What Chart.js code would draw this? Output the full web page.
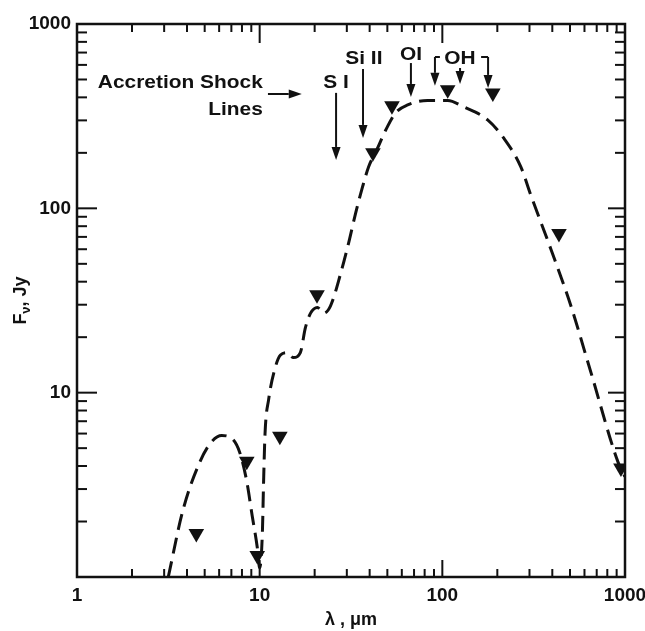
<!DOCTYPE html>
<html lang="en">
<head>
    <meta charset="UTF-8">
    <title>Spectral energy distribution</title>
    <script src="https://cdn.jsdelivr.net/npm/chart.js"></script>
    <style>
        body { margin: 0; background: #fff; }
        canvas { display: block; }
    </style>
</head>
<body>
    <canvas id="sedChart" width="645" height="631"></canvas>
    <script>
        // Model curve (dashed), wavelength in micron and flux in Jy
        const curveLambda = [3.16, 3.8, 4.7, 5.4, 6.2, 7.1, 7.8, 8.5, 9.1, 9.7, 10.0, 10.35, 10.5, 10.7, 11.2, 12.2, 13.0, 14.2, 15.3, 16.7, 17.8, 19.0, 20.7, 22.4, 24.4, 27.7, 30.7, 33.5, 36.6, 39.5, 44, 49, 55.5, 64.6, 83, 107, 131, 177, 217, 269, 305, 393, 506, 652, 916, 1000];
        const curveFlux = [1.0, 2.3, 4.2, 5.35, 5.85, 5.6, 4.7, 3.3, 2.15, 1.45, 1.12, 1.75, 3.2, 6.0, 9.2, 13.8, 16.0, 16.5, 15.5, 16.5, 22.5, 27, 29, 27, 29.5, 44, 65, 94, 131, 168, 210, 266, 330, 364, 385, 385, 355, 302, 240, 168, 118, 60, 29.5, 12.8, 4.2, 3.5];

        // Upper limits (down triangles)
        const limitLambda = [4.5, 8.5, 9.7, 12.9, 20.6, 41.7, 53, 107, 189, 435, 950];
        const limitFlux = [1.72, 4.25, 1.31, 5.8, 34, 200, 360, 440, 423, 73, 3.9];

        // Tick labels
        const xTickValues = [1, 10, 100, 1000];
        const yTickValues = [10, 100, 1000];

        // Line labels with their arrows, in data coordinates
        const lineLabels = [
            { text: 'Accretion Shock', x: 10.4, y: 450, align: 'right' },
            { text: 'Lines', x: 10.4, y: 321, align: 'right' },
            { text: 'S I', x: 26.2, y: 450, align: 'center' },
            { text: 'Si II', x: 37.2, y: 607, align: 'center' },
            { text: 'OI', x: 67.3, y: 638, align: 'center' },
            { text: 'OH', x: 125, y: 607, align: 'center' }
        ];
        const lineArrows = [
            { x1: 11.1, y1: 417, x2: 17.0, y2: 417 },
            { x1: 26.2, y1: 423, x2: 26.2, y2: 183 },
            { x1: 36.8, y1: 570, x2: 36.8, y2: 241 },
            { x1: 67.3, y1: 614, x2: 67.3, y2: 402 },
            { x1: 91.1, y1: 662, x2: 91.1, y2: 462 },
            { x1: 125, y1: 577, x2: 125, y2: 472 },
            { x1: 178, y1: 662, x2: 178, y2: 450 }
        ];
        // little hooks of the OH bracket
        const bracketHooks = [
            { x1: 91.1, x2: 97, y: 662 },
            { x1: 163, x2: 178, y: 662 }
        ];

        const INK = '#111';
        const FONT = '"Liberation Sans", Arial, Helvetica, sans-serif';

        function strokeLine(ctx, x1, y1, x2, y2) {
            ctx.beginPath();
            ctx.moveTo(x1, y1);
            ctx.lineTo(x2, y2);
            ctx.stroke();
        }

        // frame box and inward ticks on all four sides
        const frameTicks = {
            id: 'frameTicks',
            afterDraw(chart) {
                const { ctx, chartArea: a, scales: { x, y } } = chart;
                ctx.save();
                ctx.strokeStyle = INK;
                ctx.lineWidth = 2;
                for (let d = 1; d < 1000; d *= 10) {
                    for (let m = 1; m < 10; m++) {
                        const v = m * d;
                        const major = m === 1;
                        const px = x.getPixelForValue(v);
                        const py = y.getPixelForValue(v);
                        strokeLine(ctx, px, a.bottom, px, a.bottom - (major ? 17 : 8));
                        strokeLine(ctx, px, a.top, px, a.top + (major ? 19 : 8));
                        strokeLine(ctx, a.left, py, a.left + (major ? 20 : 10), py);
                        strokeLine(ctx, a.right, py, a.right - (major ? 17 : 10), py);
                    }
                }
                ctx.lineWidth = 2.5;
                ctx.strokeRect(a.left, a.top, a.width, a.height);

                // y title with subscript nu
                ctx.fillStyle = INK;
                ctx.translate(20, (a.top + a.bottom) / 2);
                ctx.rotate(-Math.PI / 2);
                ctx.textBaseline = 'alphabetic';
                const big = 'bold 18px ' + FONT;
                const small = 'bold 13px ' + FONT;
                ctx.font = big;
                const wF = ctx.measureText('F').width;
                const wRest = ctx.measureText(', Jy').width;
                ctx.font = small;
                const wNu = ctx.measureText('\u03bd').width;
                let cx = -(wF + wNu + wRest) / 2;
                ctx.font = big;
                ctx.fillText('F', cx, 6);
                cx += wF;
                ctx.font = small;
                ctx.fillText('\u03bd', cx, 10);
                cx += wNu;
                ctx.font = big;
                ctx.fillText(', Jy', cx, 6);
                ctx.restore();
            }
        };

        // labels and arrows for the accretion shock lines
        const shockLines = {
            id: 'shockLines',
            afterDatasetsDraw(chart) {
                const { ctx, scales: { x, y } } = chart;
                ctx.save();
                ctx.fillStyle = INK;
                ctx.strokeStyle = INK;
                ctx.font = 'bold 19px ' + FONT;
                ctx.textBaseline = 'alphabetic';
                lineLabels.forEach(l => {
                    // the scanned lettering is a bit wider than Arial
                    ctx.save();
                    ctx.translate(x.getPixelForValue(l.x), y.getPixelForValue(l.y));
                    ctx.scale(1.1, 1);
                    ctx.textAlign = l.align;
                    ctx.fillText(l.text, 0, 0);
                    ctx.restore();
                });
                ctx.lineWidth = 2;
                lineArrows.forEach(ar => {
                    const x1 = x.getPixelForValue(ar.x1), y1 = y.getPixelForValue(ar.y1);
                    const x2 = x.getPixelForValue(ar.x2), y2 = y.getPixelForValue(ar.y2);
                    const ang = Math.atan2(y2 - y1, x2 - x1);
                    const len = 13, half = 4.5;
                    const bx = x2 - Math.cos(ang) * len, by = y2 - Math.sin(ang) * len;
                    strokeLine(ctx, x1, y1, bx, by);
                    ctx.beginPath();
                    ctx.moveTo(x2, y2);
                    ctx.lineTo(bx - Math.sin(ang) * half, by + Math.cos(ang) * half);
                    ctx.lineTo(bx + Math.sin(ang) * half, by - Math.cos(ang) * half);
                    ctx.closePath();
                    ctx.fill();
                });
                bracketHooks.forEach(h => {
                    const py = y.getPixelForValue(h.y);
                    strokeLine(ctx, x.getPixelForValue(h.x1), py, x.getPixelForValue(h.x2), py);
                });
                ctx.restore();
            }
        };

        function drawChart() {
            const ctx = document.getElementById('sedChart').getContext('2d');
            Chart.defaults.font.family = FONT;
            Chart.defaults.color = INK;

            new Chart(ctx, {
                type: 'scatter',
                data: {
                    datasets: [
                        {
                            label: 'model',
                            data: curveLambda.map((l, i) => ({ x: l, y: curveFlux[i] })),
                            showLine: true,
                            borderColor: INK,
                            borderWidth: 3,
                            borderDash: [16, 8],
                            pointRadius: 0,
                            cubicInterpolationMode: 'monotone',
                            order: 2
                        },
                        {
                            label: 'upper limits',
                            data: limitLambda.map((l, i) => ({ x: l, y: limitFlux[i] })),
                            pointStyle: 'triangle',
                            rotation: 180,
                            pointRadius: 9,
                            backgroundColor: INK,
                            borderWidth: 0,
                            order: 1
                        }
                    ]
                },
                options: {
                    responsive: false,
                    animation: false,
                    layout: { padding: { top: 24, right: 20, left: 0, bottom: 0 } },
                    plugins: {
                        legend: { display: false },
                        tooltip: { enabled: false }
                    },
                    scales: {
                        x: {
                            type: 'logarithmic',
                            min: 1,
                            max: 1000,
                            grid: { display: false, drawTicks: false },
                            border: { display: false },
                            afterBuildTicks: s => { s.ticks = xTickValues.map(v => ({ value: v })); },
                            // fixed height, and let the "1000" label hang into the margin
                            afterFit: s => { s.height = 54; s.paddingRight = 0; s.paddingLeft = 0; },
                            ticks: {
                                padding: 7,
                                maxRotation: 0,
                                autoSkip: false,
                                font: { size: 19, weight: 'bold' },
                                callback: v => String(v)
                            },
                            title: {
                                display: true,
                                text: '\u03bb , \u03bcm',
                                font: { size: 18, weight: 'bold' },
                                padding: { top: 0, bottom: 0 }
                            }
                        },
                        y: {
                            type: 'logarithmic',
                            min: 1,
                            max: 1000,
                            grid: { display: false, drawTicks: false },
                            border: { display: false },
                            afterBuildTicks: s => { s.ticks = yTickValues.map(v => ({ value: v })); },
                            afterFit: s => { s.width = 77; s.paddingTop = 0; s.paddingBottom = 0; },
                            ticks: {
                                padding: 6,
                                autoSkip: false,
                                font: { size: 19, weight: 'bold' },
                                callback: v => String(v)
                            }
                        }
                    }
                },
                plugins: [frameTicks, shockLines]
            });
        }

        window.onload = drawChart;
    </script>
</body>
</html>
